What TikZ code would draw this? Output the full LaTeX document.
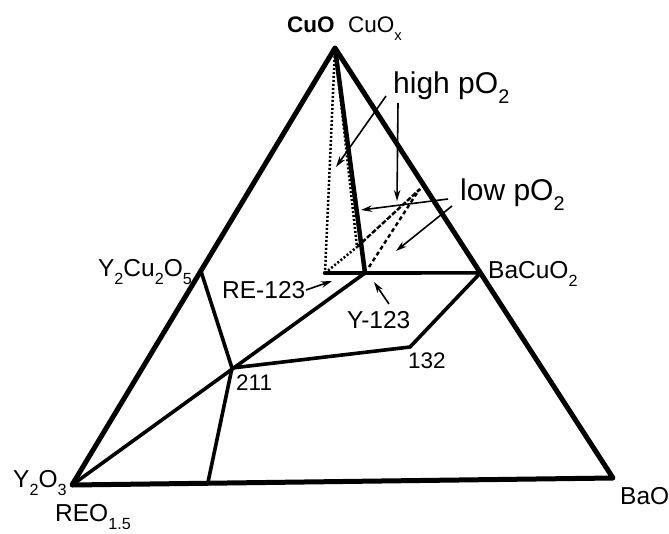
\documentclass[tikz,border=0pt]{standalone}
\usepackage{fontspec}
\setmainfont{Liberation Sans}
\usetikzlibrary{calc,arrows.meta}
\newcommand\sbs[1]{\raisebox{-0.36em}{\scalebox{0.66}{#1}}}
\begin{document}
\begin{tikzpicture}[x=1pt,y=-1pt,
  edge/.style={line width=5pt,line cap=round,line join=round},
  tie/.style={line width=3.6pt,line cap=round,line join=round},
  heavy/.style={line width=4.5pt,line cap=round},
  dotl/.style={line width=2.5pt,dash pattern=on 2pt off 2pt},
  dashA/.style={line width=2.4pt,dash pattern=on 5pt off 1.8pt},
  dashB/.style={line width=2.4pt,dash pattern=on 4pt off 3pt},
  ptr/.style={line width=1.6pt,-{Stealth[length=11pt,width=6.5pt]}},
  lbl/.style={inner sep=0pt,font=\fontsize{24.5}{28}\selectfont},
  nlbl/.style={inner sep=0pt,font=\fontsize{22.5}{26}\selectfont},
  plbl/.style={inner sep=0pt,font=\fontsize{30}{34}\selectfont},
  clbl/.style={inner sep=0pt,font=\fontsize{22.5}{26}\selectfont}]
\useasboundingbox (0,0) rectangle (669,533);
% vertices and points
\coordinate (A) at (335,48);
\coordinate (L) at (72,485);
\coordinate (R) at (613,478);
\coordinate (P1) at ($(A)!0.51!(L)$);
\coordinate (P2) at ($(A)!0.523!(R)$);
\coordinate (F) at ($(L)!0.251!(R)$);
\coordinate (D211) at (232,368);
\coordinate (Y123) at (365,273);
\coordinate (D132) at (410,347);
\coordinate (RE) at (325,273);
\coordinate (Q) at (357,247);
\coordinate (T) at (420,189);
\coordinate (B1) at (369,267);
\coordinate (B2) at (415,196);
% arrow coordinates
\coordinate (h1s) at (386,96);
\coordinate (h1e) at (336,167);
\coordinate (h2s) at (398,103);
\coordinate (h2e) at (397,201);
\coordinate (l1s) at (448,199);
\coordinate (l1e) at (361,210);
\coordinate (l2s) at (452,206);
\coordinate (l2e) at (396,251);
\coordinate (res) at (306,290);
\coordinate (ree) at (332,281);
\coordinate (ys) at (389,304);
\coordinate (ye) at (374,282);
% triangle and tie lines
\draw[edge] (A) -- (L) -- (R) -- cycle;
\draw[tie] (P1) -- (D211) -- (F);
\draw[tie] (L) -- (Y123);
\draw[tie] (D211) -- (D132) -- (P2) -- (Y123);
\draw[heavy] (A) -- (Y123);
\draw[heavy] (RE) -- (Y123);
% dotted and dashed
\draw[dotl] (A) -- (RE);
\draw[dotl] (A) -- (Q);
\draw[dotl] (RE) -- (Q);
\draw[dashA] (Q) -- (T);
\draw[dashB] (B1) -- (B2) -- (T);
% arrows
\draw[ptr] (h1s) -- (h1e);
\draw[ptr] (h2s) -- (h2e);
\draw[ptr] (l1s) -- (l1e);
\draw[ptr] (l2s) -- (l2e);
\draw[ptr] (res) -- (ree);
\draw[ptr] (ys) -- (ye);
% labels
\node[clbl,anchor=base west] (cuo) at (287,32) {\bfseries CuO};
\node[clbl,anchor=base west] (cuox) at (348,32) {CuO\sbs{x}};
\node[plbl,anchor=base west] (high) at (393,93) {high pO\sbs{2}};
\node[plbl,anchor=base west] (low) at (460,200) {low pO\sbs{2}};
\node[lbl,anchor=base east] (y215) at (192,276) {Y\sbs{2}Cu\sbs{2}O\sbs{5}};
\node[lbl,anchor=base west] (bacuo) at (488,278) {BaCuO\sbs{2}};
\node[lbl,anchor=base west] (re) at (222,298) {RE-123};
\node[lbl,anchor=base west] (y) at (347,328) {Y-123};
\node[nlbl,anchor=base west] (n211) at (236,390) {211};
\node[nlbl,anchor=base west] (n132) at (408,368) {132};
\node[lbl,anchor=base west] (y2o3) at (13,487) {Y\sbs{2}O\sbs{3}};
\node[lbl,anchor=base west] (reo) at (55,521) {REO\sbs{1.5}};
\node[lbl,anchor=base west] (bao) at (620,504) {BaO};
\end{tikzpicture}
\end{document}
